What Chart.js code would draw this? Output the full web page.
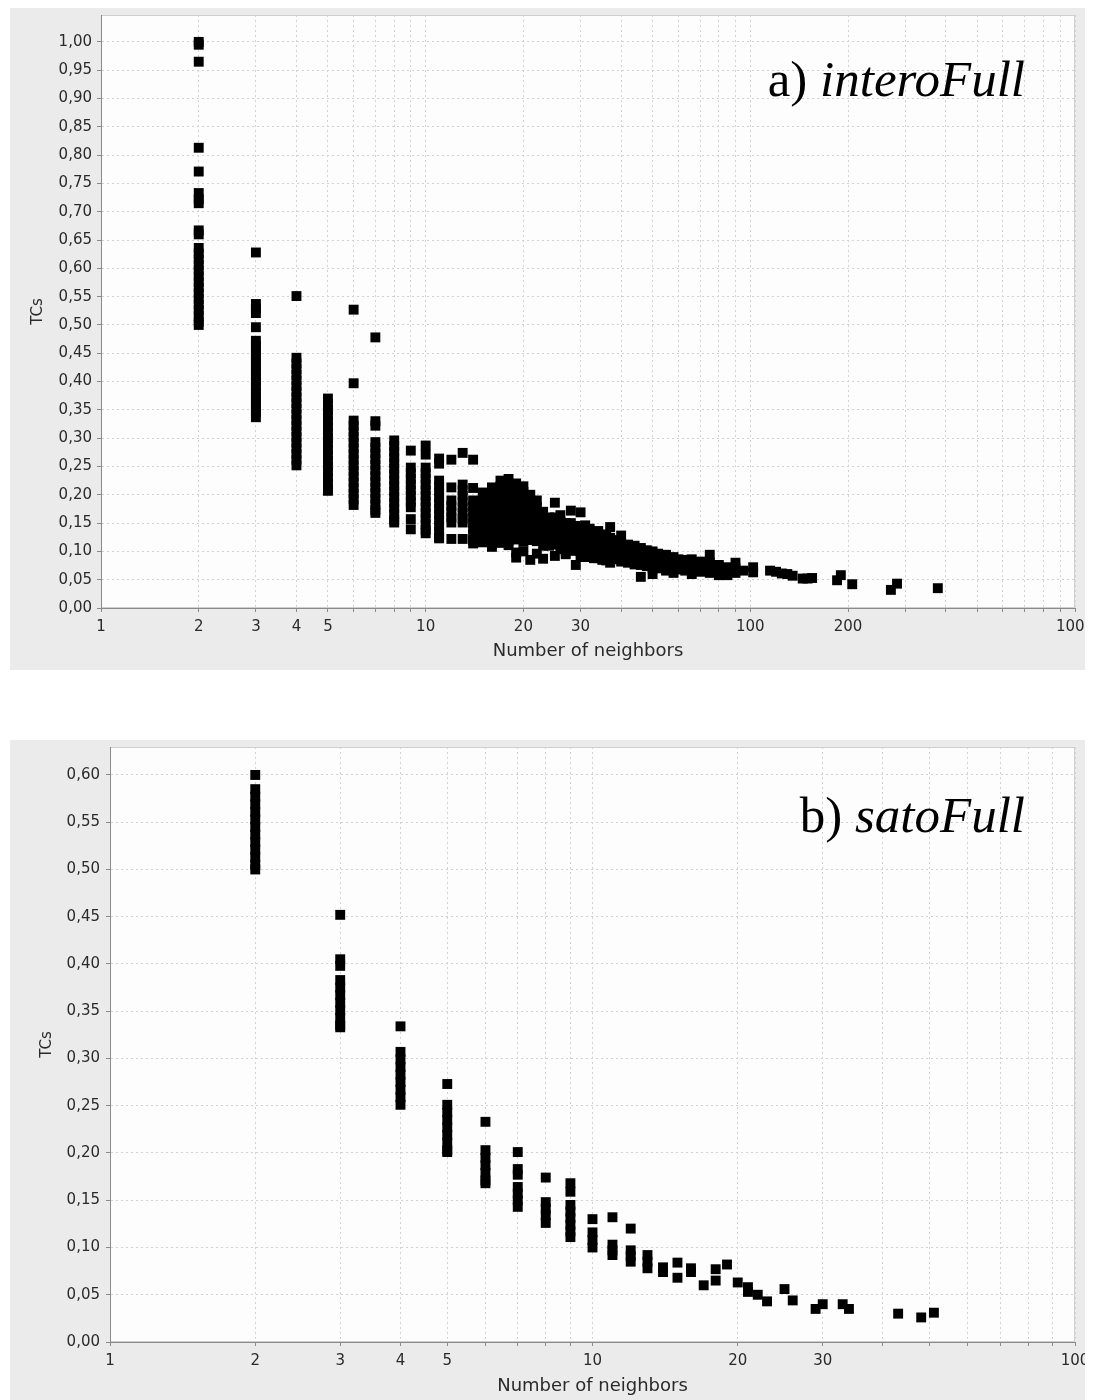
<!DOCTYPE html>
<html>
<head>
<meta charset="utf-8">
<title>TCs vs Number of neighbors</title>
<script src="https://cdn.jsdelivr.net/npm/chart.js@4/dist/chart.umd.min.js"></script>
<style>
  html, body { margin: 0; padding: 0; background: #ffffff; }
  body { position: relative; width: 1095px; height: 1400px; overflow: hidden; }
  .panel { position: absolute; background: #ebebeb; }
  .panel canvas { position: absolute; left: 0; top: 0; }
  .tag {
    position: absolute; font-family: "Liberation Serif", "Times New Roman", serif;
    font-size: 51px; line-height: 51px; color: #000; white-space: nowrap;
  }
  .tag i { font-style: italic; }
</style>
</head>
<body>
<div class="panel" style="left:10px;top:8px;width:1075px;height:662px">
  <canvas id="chartA" width="1075" height="662" style="width:1075px;height:662px"></canvas>
  <div class="tag" style="right:60px;top:46px">a) <i>interoFull</i></div>
</div>
<div class="panel" style="left:10px;top:740px;width:1075px;height:660px">
  <canvas id="chartB" width="1075" height="660" style="width:1075px;height:660px"></canvas>
  <div class="tag" style="right:60px;top:50px">b) <i>satoFull</i></div>
</div>
<script>
// ---- a) interoFull: TC values grouped by number of neighbors ----
const interoNeighbors = [
  2, 3, 4, 5, 6, 7, 8, 9, 10, 11, 12, 13, 14, 15, 16, 17, 18, 19, 20, 21, 22, 23, 24, 25,
  26, 27, 28, 29, 30, 31, 32, 33, 34, 35, 36, 37, 38, 40, 42, 44, 46, 48, 50, 52, 55, 58,
  60, 63, 66, 70, 75, 80, 85, 90, 95, 102, 115, 120, 125, 130, 135, 145, 150, 155, 185,
  190, 206, 271, 283, 378
];
const interoTCs = [
  [1.000, 0.995, 0.965, 0.813, 0.771, 0.733, 0.722, 0.715, 0.667, 0.660, 0.636, 0.626, 0.616, 0.606, 0.596, 0.586, 0.576, 0.566, 0.556, 0.546, 0.536, 0.526, 0.516, 0.506, 0.500],
  [0.628, 0.537, 0.529, 0.521, 0.496, 0.472, 0.463, 0.454, 0.445, 0.436, 0.427, 0.418, 0.409, 0.400, 0.391, 0.382, 0.373, 0.364, 0.355, 0.346, 0.337],
  [0.551, 0.442, 0.432, 0.422, 0.412, 0.402, 0.392, 0.382, 0.372, 0.362, 0.352, 0.342, 0.332, 0.322, 0.312, 0.302, 0.292, 0.282, 0.272, 0.262, 0.252],
  [0.370, 0.360, 0.350, 0.340, 0.330, 0.320, 0.310, 0.300, 0.290, 0.280, 0.270, 0.260, 0.250, 0.240, 0.230, 0.220, 0.210, 0.207],
  [0.527, 0.397, 0.331, 0.322, 0.312, 0.302, 0.292, 0.282, 0.272, 0.262, 0.252, 0.242, 0.232, 0.222, 0.212, 0.202, 0.192, 0.182],
  [0.478, 0.330, 0.322, 0.293, 0.283, 0.273, 0.263, 0.253, 0.243, 0.233, 0.223, 0.213, 0.203, 0.193, 0.183, 0.173, 0.168],
  [0.296, 0.286, 0.276, 0.266, 0.256, 0.246, 0.236, 0.226, 0.216, 0.206, 0.196, 0.186, 0.176, 0.166, 0.156, 0.151],
  [0.278, 0.248, 0.238, 0.228, 0.218, 0.208, 0.198, 0.188, 0.178, 0.157, 0.139],
  [0.287, 0.271, 0.248, 0.238, 0.228, 0.218, 0.208, 0.198, 0.188, 0.178, 0.168, 0.158, 0.148, 0.138, 0.132],
  [0.264, 0.255, 0.225, 0.215, 0.205, 0.195, 0.185, 0.175, 0.165, 0.155, 0.145, 0.135, 0.125, 0.123],
  [0.262, 0.213, 0.190, 0.180, 0.170, 0.160, 0.151, 0.122],
  [0.274, 0.218, 0.208, 0.198, 0.188, 0.178, 0.168, 0.158, 0.151, 0.122],
  [0.262, 0.212, 0.190, 0.180, 0.170, 0.160, 0.150, 0.140, 0.130, 0.120, 0.114],
  [0.204, 0.194, 0.184, 0.174, 0.164, 0.154, 0.144, 0.134, 0.124, 0.116],
  [0.213, 0.203, 0.193, 0.183, 0.173, 0.163, 0.153, 0.143, 0.133, 0.123, 0.113, 0.108],
  [0.225, 0.215, 0.205, 0.195, 0.185, 0.175, 0.165, 0.155, 0.145, 0.135, 0.125, 0.115],
  [0.228, 0.218, 0.208, 0.198, 0.188, 0.178, 0.168, 0.158, 0.148, 0.138, 0.128, 0.118, 0.111],
  [0.220, 0.210, 0.200, 0.190, 0.180, 0.170, 0.160, 0.150, 0.140, 0.130, 0.121, 0.098, 0.089],
  [0.215, 0.205, 0.195, 0.185, 0.175, 0.165, 0.155, 0.145, 0.135, 0.125, 0.117, 0.100],
  [0.200, 0.190, 0.180, 0.170, 0.160, 0.150, 0.140, 0.130, 0.120, 0.085],
  [0.190, 0.178, 0.166, 0.154, 0.142, 0.130, 0.118, 0.096],
  [0.170, 0.160, 0.150, 0.140, 0.130, 0.120, 0.110, 0.087],
  [0.160, 0.150, 0.140, 0.130, 0.120, 0.110],
  [0.186, 0.160, 0.148, 0.136, 0.124, 0.112, 0.092],
  [0.164, 0.152, 0.140, 0.128, 0.116, 0.104],
  [0.150, 0.140, 0.130, 0.120, 0.110, 0.100, 0.095],
  [0.172, 0.150, 0.138, 0.126, 0.114, 0.102],
  [0.145, 0.134, 0.123, 0.112, 0.101, 0.076],
  [0.169, 0.140, 0.130, 0.120, 0.110, 0.100, 0.090],
  [0.146, 0.134, 0.122, 0.110, 0.098, 0.090],
  [0.140, 0.128, 0.116, 0.104, 0.092],
  [0.132, 0.120, 0.108, 0.096, 0.088],
  [0.136, 0.124, 0.112, 0.100, 0.088],
  [0.130, 0.118, 0.106, 0.094, 0.085],
  [0.128, 0.116, 0.104, 0.092, 0.084],
  [0.143, 0.124, 0.112, 0.100, 0.088, 0.080],
  [0.120, 0.108, 0.096, 0.086],
  [0.128, 0.115, 0.104, 0.093, 0.082],
  [0.112, 0.100, 0.090, 0.080],
  [0.110, 0.099, 0.088, 0.077],
  [0.106, 0.095, 0.084, 0.076, 0.055],
  [0.102, 0.092, 0.082, 0.074],
  [0.100, 0.090, 0.080, 0.070, 0.060],
  [0.096, 0.086, 0.076, 0.070],
  [0.094, 0.084, 0.074, 0.066],
  [0.090, 0.080, 0.072, 0.062],
  [0.086, 0.076, 0.068],
  [0.085, 0.076, 0.066],
  [0.086, 0.078, 0.068, 0.060],
  [0.082, 0.072, 0.064],
  [0.094, 0.080, 0.070, 0.062],
  [0.076, 0.068, 0.058],
  [0.072, 0.064, 0.058],
  [0.080, 0.070, 0.062],
  [0.066],
  [0.072, 0.063],
  [0.066],
  [0.064],
  [0.061],
  [0.060],
  [0.057],
  [0.052],
  [0.052],
  [0.053],
  [0.049],
  [0.058],
  [0.042],
  [0.032],
  [0.043],
  [0.035]
];

// ---- b) satoFull: TC values grouped by number of neighbors ----
const satoNeighbors = [
  2, 3, 4, 5, 6, 7, 8, 9, 10, 11, 12, 13, 14, 15, 16, 17, 18, 19, 20, 21, 22, 23, 25, 26,
  29, 30, 33, 34, 43, 48, 51
];
const satoTCs = [
  [0.600, 0.585, 0.577, 0.569, 0.561, 0.553, 0.545, 0.537, 0.529, 0.521, 0.513, 0.505, 0.500],
  [0.452, 0.405, 0.398, 0.383, 0.375, 0.367, 0.359, 0.351, 0.343, 0.335, 0.333],
  [0.334, 0.307, 0.299, 0.291, 0.283, 0.275, 0.267, 0.259, 0.251],
  [0.273, 0.251, 0.243, 0.235, 0.227, 0.219, 0.211, 0.203, 0.201],
  [0.233, 0.203, 0.195, 0.187, 0.179, 0.171, 0.168],
  [0.201, 0.183, 0.177, 0.164, 0.157, 0.150, 0.143],
  [0.174, 0.148, 0.141, 0.134, 0.126],
  [0.168, 0.159, 0.145, 0.138, 0.131, 0.124, 0.117, 0.111],
  [0.130, 0.116, 0.108, 0.100],
  [0.132, 0.103, 0.097, 0.092],
  [0.120, 0.097, 0.091, 0.085],
  [0.092, 0.085, 0.078],
  [0.079, 0.074],
  [0.084, 0.068],
  [0.078, 0.074],
  [0.060],
  [0.077, 0.065],
  [0.082],
  [0.063],
  [0.058, 0.053],
  [0.050],
  [0.043],
  [0.056],
  [0.044],
  [0.035],
  [0.040],
  [0.040],
  [0.035],
  [0.030],
  [0.026],
  [0.031]
];

// ---- axis ticks ----
const xGridA = [1, 2, 3, 4, 5, 6, 7, 8, 9, 10, 20, 30, 40, 50, 60, 70, 80, 90, 100, 200, 300, 400, 500, 600, 700, 800, 900, 1000];
const xLabelsA = [1, 2, 3, 4, 5, 10, 20, 30, 100, 200, 1000];
const yTicksA = [0, 0.05, 0.10, 0.15, 0.20, 0.25, 0.30, 0.35, 0.40, 0.45, 0.50, 0.55, 0.60, 0.65, 0.70, 0.75, 0.80, 0.85, 0.90, 0.95, 1.00];
const xGridB = [1, 2, 3, 4, 5, 6, 7, 8, 9, 10, 20, 30, 40, 50, 60, 70, 80, 90, 100];
const xLabelsB = [1, 2, 3, 4, 5, 10, 20, 30, 100];
const yTicksB = [0, 0.05, 0.10, 0.15, 0.20, 0.25, 0.30, 0.35, 0.40, 0.45, 0.50, 0.55, 0.60];

function toPoints(xs, groups) {
  const pts = [];
  xs.forEach((x, i) => groups[i].forEach(y => pts.push({ x: x, y: y })));
  return pts;
}

Chart.defaults.font.family = '"DejaVu Sans", "Liberation Sans", sans-serif';
Chart.defaults.color = '#2a2a2a';

// white plotting area with a thin light frame
const plotFrame = {
  id: 'plotFrame',
  beforeDraw(chart) {
    const { ctx, chartArea: a } = chart;
    ctx.save();
    ctx.fillStyle = '#fdfdfd';
    ctx.fillRect(a.left, a.top, a.right - a.left, a.bottom - a.top);
    ctx.strokeStyle = '#cfcfcf';
    ctx.lineWidth = 1;
    ctx.strokeRect(a.left + 0.5, a.top + 0.5, a.right - a.left - 1, a.bottom - a.top - 1);
    ctx.restore();
  }
};

function makeChart(id, cfg) {
  const fmtY = v => v.toFixed(2).replace('.', ',');
  const gridOpts = {
    color: '#d2d2d2',
    tickLength: 4,
    tickColor: '#8a8a8a',
    tickBorderDash: []
  };
  // border.dash sets the dotted pattern of the grid lines; the axis line stays solid
  const borderOpts = { color: '#8a8a8a', width: 1, dash: [2, 3] };
  return new Chart(document.getElementById(id), {
    type: 'scatter',
    data: {
      datasets: [{
        data: cfg.points,
        pointStyle: 'rect',
        pointRadius: 7,
        pointHoverRadius: 7,
        backgroundColor: '#000000',
        borderWidth: 0
      }]
    },
    options: {
      responsive: false,
      animation: false,
      events: [],
      layout: { padding: { top: cfg.padTop, right: 10, left: 0, bottom: 0 } },
      plugins: { legend: { display: false }, tooltip: { enabled: false } },
      scales: {
        x: {
          type: 'logarithmic',
          min: cfg.xMin,
          max: cfg.xMax,
          afterBuildTicks: s => { s.ticks = cfg.xGrid.map(v => ({ value: v })); },
          afterFit: s => { s.height = cfg.xAxisHeight; s.paddingLeft = 0; s.paddingRight = 0; },
          ticks: {
            autoSkip: false,
            maxRotation: 0,
            minRotation: 0,
            padding: 6,
            font: { size: 15 },
            callback: v => (cfg.xLabels.includes(v) ? String(v) : '')
          },
          grid: gridOpts,
          border: borderOpts,
          title: {
            display: true,
            text: 'Number of neighbors',
            font: { size: 18 },
            padding: { top: 0, bottom: cfg.xTitlePad }
          }
        },
        y: {
          type: 'linear',
          min: 0,
          max: cfg.yMax,
          afterBuildTicks: s => { s.ticks = cfg.yTicks.map(v => ({ value: v })); },
          afterFit: s => { s.width = cfg.yAxisWidth; s.paddingTop = 0; s.paddingBottom = 0; },
          ticks: {
            padding: cfg.yTickPad,
            font: { size: 15 },
            callback: fmtY
          },
          grid: gridOpts,
          border: borderOpts,
          title: {
            display: true,
            text: 'TCs',
            font: { size: 15 },
            padding: { top: cfg.yTitlePad, bottom: 0 }
          }
        }
      }
    },
    plugins: [plotFrame]
  });
}

makeChart('chartA', {
  points: toPoints(interoNeighbors, interoTCs),
  xMin: 1, xMax: 1000, xGrid: xGridA, xLabels: xLabelsA,
  yMax: 1.0475, yTicks: yTicksA,
  padTop: 5, xAxisHeight: 62, yAxisWidth: 91,
  xTitlePad: 8, yTitlePad: 19, yTickPad: 5
});

makeChart('chartB', {
  points: toPoints(satoNeighbors, satoTCs),
  xMin: 1, xMax: 100, xGrid: xGridB, xLabels: xLabelsB,
  yMax: 0.6296, yTicks: yTicksB,
  padTop: 7, xAxisHeight: 58, yAxisWidth: 100,
  xTitlePad: 3, yTitlePad: 28, yTickPad: 6
});
</script>
</body>
</html>
